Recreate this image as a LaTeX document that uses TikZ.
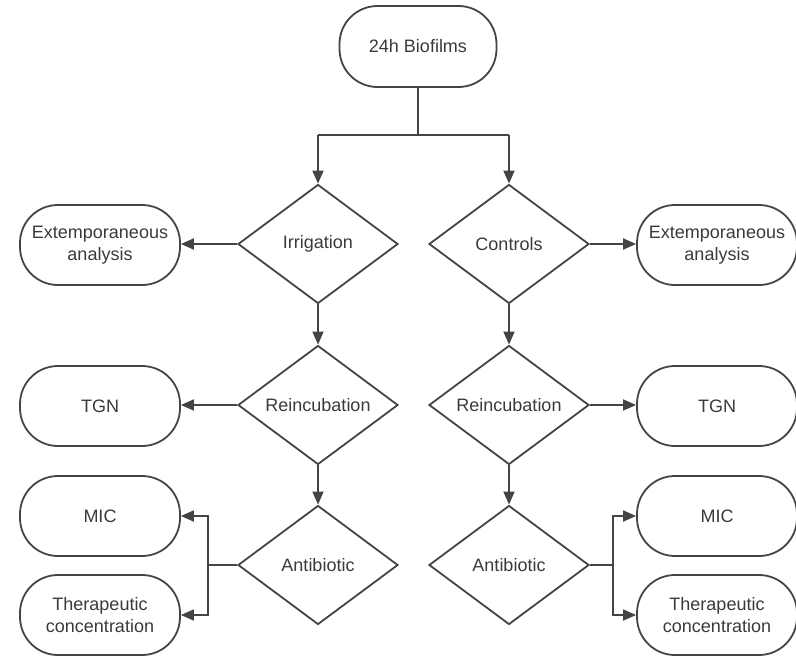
\documentclass[tikz,border=0pt]{standalone}
\usepackage{fontspec}
\setmainfont{Liberation Sans}
\usetikzlibrary{shapes.geometric,arrows.meta}
\definecolor{ln}{HTML}{444444}
\definecolor{tx}{HTML}{3A3A3A}
\begin{document}
\begin{tikzpicture}[x=1pt,y=-1pt,
  term/.style={draw=ln, line width=1.8pt, rounded corners=38pt, minimum width=160pt, minimum height=80pt, inner sep=0pt, align=center, text=tx, font=\fontsize{18}{22}\selectfont},
  dec/.style={diamond, draw=ln, line width=1.8pt, minimum width=160pt, minimum height=119pt, inner sep=0pt, text=tx, font=\fontsize{18}{22}\selectfont},
  wire/.style={draw=ln, line width=1.8pt},
  conn/.style={wire, -{Triangle[length=13pt,width=11pt]}}]
\useasboundingbox (0,0) rectangle (796,656);
\node[term, minimum width=157pt, minimum height=81pt] (top) at (418,46.5) {24h Biofilms};
\node[dec] (irr) at (318,244) {Irrigation};
\node[dec] (ctl) at (509,244) {Controls};
\node[term] (extL) at (100,245) {Extemporaneous\\analysis};
\node[term] (extR) at (717,245) {Extemporaneous\\analysis};
\node[dec] (reiL) at (318,405) {Reincubation};
\node[dec] (reiR) at (509,405) {Reincubation};
\node[term] (tgnL) at (100,406) {TGN};
\node[term] (tgnR) at (717,406) {TGN};
\node[dec] (antL) at (318,565) {Antibiotic};
\node[dec] (antR) at (509,565) {Antibiotic};
\node[term] (micL) at (100,516) {MIC};
\node[term] (micR) at (717,516) {MIC};
\node[term] (theL) at (100,615) {Therapeutic\\concentration};
\node[term] (theR) at (717,615) {Therapeutic\\concentration};
\coordinate (jL) at (318,135);
\coordinate (jR) at (509,135);
\draw[wire] (top.south) -- (top.south |- jL);
\draw[wire] (jL) -- (jR);
\draw[conn] (jL) -- (irr.north);
\draw[conn] (jR) -- (ctl.north);
\draw[conn] (irr.west) -- (irr.west -| extL.east);
\draw[conn] (ctl.east) -- (ctl.east -| extR.west);
\draw[conn] (irr.south) -- (reiL.north);
\draw[conn] (ctl.south) -- (reiR.north);
\draw[conn] (reiL.west) -- (reiL.west -| tgnL.east);
\draw[conn] (reiR.east) -- (reiR.east -| tgnR.west);
\draw[conn] (reiL.south) -- (antL.north);
\draw[conn] (reiR.south) -- (antR.north);
\coordinate (fL) at (208,565);
\coordinate (fR) at (613,565);
\draw[wire] (antL.west) -- (fL);
\draw[conn] (fL) |- (micL.east);
\draw[conn] (fL) |- (theL.east);
\draw[wire] (antR.east) -- (fR);
\draw[conn] (fR) |- (micR.west);
\draw[conn] (fR) |- (theR.west);
\end{tikzpicture}
\end{document}
